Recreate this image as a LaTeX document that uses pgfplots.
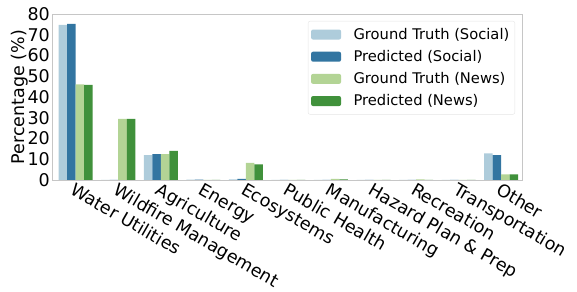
\documentclass[border=0pt]{standalone}
\usepackage{fontspec}
\setmainfont{DejaVu Sans}
\usepackage{pgfplots}
\pgfplotsset{compat=1.18}
\definecolor{c1}{HTML}{AECCDB}
\definecolor{c2}{HTML}{3275A1}
\definecolor{c3}{HTML}{B3D495}
\definecolor{c4}{HTML}{40913B}
\begin{document}
\begin{tikzpicture}
\begin{axis}[
 width=470pt, height=166pt, scale only axis,
 ybar=0pt, bar width=0.2,
 xmin=-0.557, xmax=10.49, ymin=0, ymax=80,
 ytick={0,10,...,80},
 xtick={0,...,10},
 xticklabels={Water Utilities, Wildfire Management, Agriculture, Energy, Ecosystems, Public Health, Manufacturing, Hazard Plan \& Prep, Recreation, Transportation, Other},
 xticklabel style={rotate=-30, anchor=north west, inner sep=1.5pt, font=\fontsize{17.5}{20}\selectfont},
 yticklabel style={font=\fontsize{17.5}{20}\selectfont, inner sep=2pt},
 /pgf/number format/assume math mode=true,
 ylabel={Percentage (\%)},
 every axis y label/.style={at={(rel axis cs:0,0.5)}, xshift=-24pt, rotate=90, anchor=south, inner sep=0pt, font=\fontsize{17.5}{21}\selectfont},
 major tick length=0pt,
 axis line style={gray!45},
 legend cell align=left,
 legend style={at={(1,1)}, anchor=north east, xshift=-7pt, yshift=-7pt,
   draw=gray!20, rounded corners=2pt, fill=white,
   font=\fontsize{14.7}{17}\selectfont,
   row sep=4.5pt, inner xsep=3pt, inner ysep=4.5pt,
   nodes={inner sep=2.5pt},
   /tikz/every odd column/.append style={column sep=10pt}},
 legend image code/.code={\fill[#1] (0pt,-5pt) rectangle (30pt,5pt);},
]
\addplot[fill=c1, draw=none] coordinates {(0,74.7) (1,0) (2,12.0) (3,0.2) (4,0.3) (5,0) (6,0) (7,0) (8,0) (9,0) (10,12.8)};
\addplot[fill=c2, draw=none] coordinates {(0,75.2) (1,0) (2,12.5) (3,0.2) (4,0.5) (5,0) (6,0) (7,0) (8,0) (9,0) (10,12.0)};
\addplot[fill=c3, draw=none] coordinates {(0,46.1) (1,29.4) (2,12.5) (3,0) (4,8.3) (5,0) (6,0.5) (7,0) (8,0.3) (9,0) (10,2.7)};
\addplot[fill=c4, draw=none] coordinates {(0,45.8) (1,29.4) (2,14.0) (3,0) (4,7.5) (5,0) (6,0.3) (7,0) (8,0) (9,0) (10,2.7)};
\legend{Ground Truth (Social), Predicted (Social), Ground Truth (News), Predicted (News)}
\coordinate (tl) at (rel axis cs:0,1);
\coordinate (br) at (rel axis cs:1,0);
\end{axis}
\pgfresetboundingbox
\useasboundingbox ([shift={(-52pt,14pt)}]tl) rectangle ([shift={(55pt,-112pt)}]br);
\end{tikzpicture}
\end{document}
